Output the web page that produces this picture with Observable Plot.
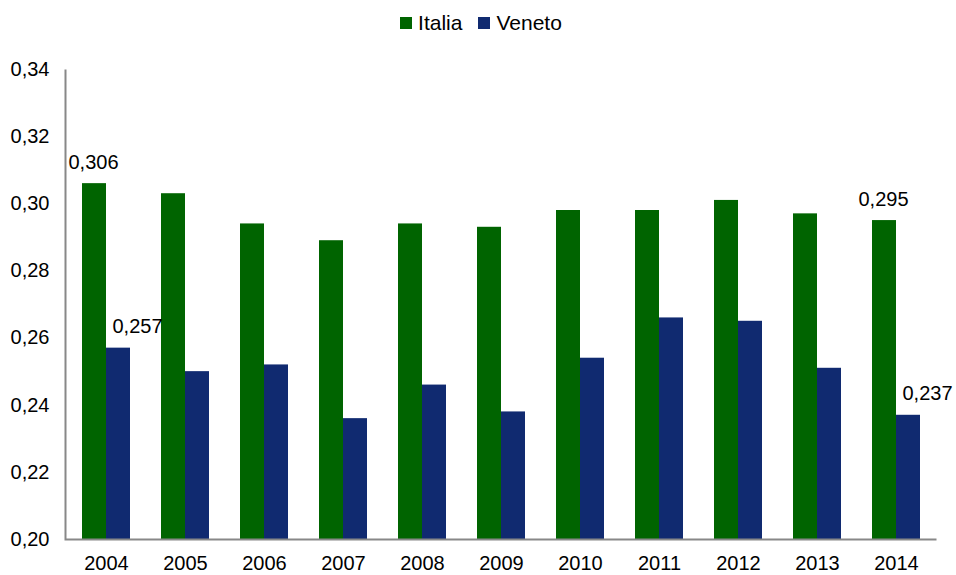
<!DOCTYPE html>
<html>
<head>
<meta charset="utf-8">
<script src="https://cdn.jsdelivr.net/npm/d3@7"></script>
<script src="https://cdn.jsdelivr.net/npm/@observablehq/plot@0.6"></script>
<style>
  body { margin: 0; background: #fff; font-family: "Liberation Sans", Arial, sans-serif; }
  #legend { height: 45px; display: flex; justify-content: center; align-items: center; gap: 16px; font-size: 21px; color: #000; padding-left: 6px; box-sizing: border-box; }
  #legend span.item { display: inline-flex; align-items: center; gap: 6px; }
  #legend span.sw { width: 12px; height: 12px; display: inline-block; }
  #chart svg { display: block; }
</style>
</head>
<body>
<div id="legend"></div>
<div id="chart"></div>
<script>
const years = ["2004","2005","2006","2007","2008","2009","2010","2011","2012","2013","2014"];
const italia = [0.306, 0.303, 0.294, 0.289, 0.294, 0.293, 0.298, 0.298, 0.301, 0.297, 0.295];
const veneto = [0.257, 0.250, 0.252, 0.236, 0.246, 0.238, 0.254, 0.266, 0.265, 0.251, 0.237];
const seriesNames = ["Italia", "Veneto"];
const seriesColors = ["#006400", "#102A70"];
const yTicks = [0.20, 0.22, 0.24, 0.26, 0.28, 0.30, 0.32, 0.34];
const labeledYears = ["2004", "2014"];

const fmt = d => d.toFixed(2).replace(".", ",");
const fmt3 = d => d.toFixed(3).replace(".", ",");

const italiaData = years.map((y, i) => ({year: y, value: italia[i]}));
const venetoData = years.map((y, i) => ({year: y, value: veneto[i]}));

// legend
const legend = document.getElementById("legend");
seriesNames.forEach((n, i) => {
  const s = document.createElement("span");
  s.className = "item";
  s.innerHTML = `<span class="sw" style="background:${seriesColors[i]}"></span>${n}`;
  legend.appendChild(s);
});

const W = 956, H = 530, mt = 24, mb = 36, ml = 65, mr = 20;
const fw = W - ml - mr, fh = H - mt - mb;

const chart = Plot.plot({
  width: W,
  height: H,
  marginTop: mt,
  marginBottom: mb,
  marginLeft: ml,
  marginRight: mr,
  style: { fontFamily: "Liberation Sans, Arial, sans-serif", fontSize: "20px", color: "#000", background: "#fff" },
  x: { domain: years, paddingInner: 0.697, paddingOuter: 0.35, tickSize: 0, tickPadding: 16, label: null },
  y: { domain: [0.20, 0.34], ticks: yTicks, tickFormat: fmt, tickSize: 0, tickPadding: 16, label: null },
  marks: [
    Plot.barY(italiaData, { x: "year", y1: 0.20, y2: "value", fill: seriesColors[0], dx: -12 }),
    Plot.barY(venetoData, { x: "year", y1: 0.20, y2: "value", fill: seriesColors[1], dx: 12 }),
    Plot.text(italiaData.filter(d => labeledYears.includes(d.year)), {
      x: "year", y: "value", text: d => fmt3(d.value), dx: -13, dy: -21, fontSize: 20, fill: "#000"
    }),
    Plot.text(venetoData.filter(d => labeledYears.includes(d.year)), {
      x: "year", y: "value", text: d => fmt3(d.value), dx: 31, dy: -22, fontSize: 20, fill: "#000"
    }),
    Plot.frame({ stroke: "#888", strokeWidth: 2, strokeDasharray: `0 ${fw + fh} ${fw + fh}` })
  ]
});
document.getElementById("chart").appendChild(chart);
</script>
</body>
</html>
